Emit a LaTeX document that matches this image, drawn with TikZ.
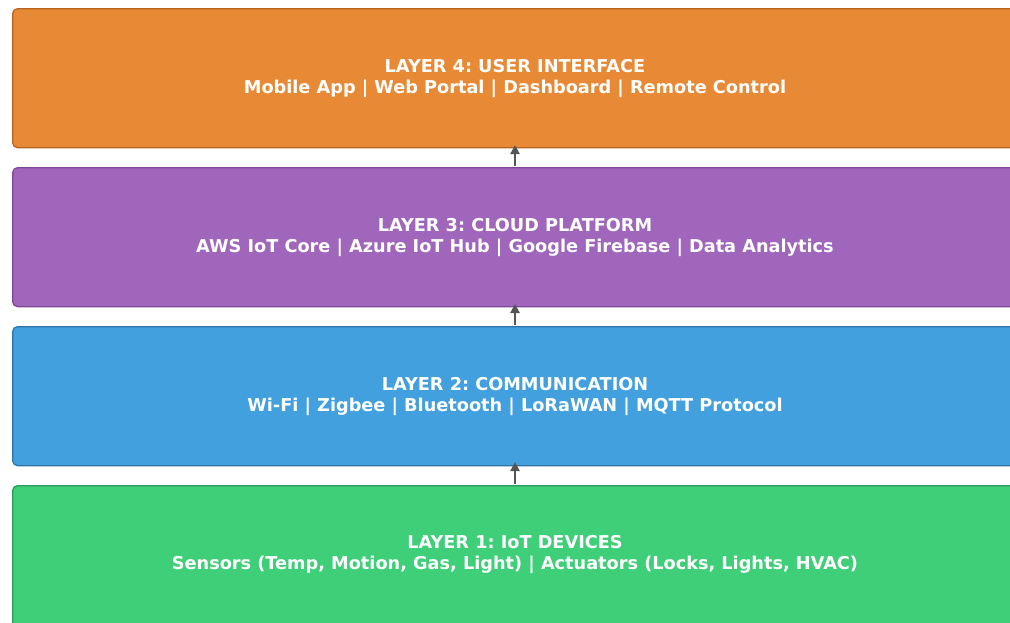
\documentclass[tikz,border=0pt]{standalone}
\usepackage{fontspec}
\setmainfont{DejaVu Sans}
\frenchspacing
\usetikzlibrary{arrows.meta}
\definecolor{oFill}{HTML}{E88A35}\definecolor{oDraw}{HTML}{B8641F}
\definecolor{pFill}{HTML}{A066BC}\definecolor{pDraw}{HTML}{7E4896}
\definecolor{bFill}{HTML}{43A0DE}\definecolor{bDraw}{HTML}{2C75A8}
\definecolor{gFill}{HTML}{3ECF78}\definecolor{gDraw}{HTML}{2A9A58}
\definecolor{arr}{HTML}{555555}
\tikzset{
  layer/.style={rounded corners=5pt, line width=1.3pt, minimum width=1030pt, minimum height=139pt, anchor=north west, inner sep=0pt},
  ltext/.style={text=white, font=\bfseries\fontsize{17.7}{21}\selectfont, align=center},
  uparrow/.style={-{Triangle[length=9pt,width=9pt]}, line width=2.2pt, draw=arr}
}
\begin{document}
\begin{tikzpicture}[x=1pt,y=1pt]
\useasboundingbox (0,0) rectangle (1010,-622);
\clip (0,0) rectangle (1010,-622);
\node[layer, fill=oFill, draw=oDraw] (l4) at (12,-8) {};
\node[layer, fill=pFill, draw=pDraw] (l3) at (12,-167) {};
\node[layer, fill=bFill, draw=bDraw] (l2) at (12,-326) {};
\node[layer, fill=gFill, draw=gDraw, minimum height=150pt] (l1) at (12,-485) {};
\node[ltext] (t4) at (515,-79) {LAYER 4: USER INTERFACE\\Mobile App | Web Portal | Dashboard | Remote Control};
\node[ltext] (t3) at (515,-237.5) {LAYER 3: CLOUD PLATFORM\\AWS IoT Core | Azure IoT Hub | Google Firebase | Data Analytics};
\node[ltext] (t2) at (515,-396.5) {LAYER 2: COMMUNICATION\\Wi-Fi | Zigbee | Bluetooth | LoRaWAN | MQTT Protocol};
\node[ltext] (t1) at (515,-555) {LAYER 1: IoT DEVICES\\Sensors (Temp, Motion, Gas, Light) | Actuators (Locks, Lights, HVAC)};
\coordinate (a1s) at (515,-484); \coordinate (a1e) at (515,-462);
\coordinate (a2s) at (515,-325); \coordinate (a2e) at (515,-304);
\coordinate (a3s) at (515,-166); \coordinate (a3e) at (515,-145);
\draw[uparrow] (a1s) -- (a1e);
\draw[uparrow] (a2s) -- (a2e);
\draw[uparrow] (a3s) -- (a3e);
\end{tikzpicture}
\end{document}
